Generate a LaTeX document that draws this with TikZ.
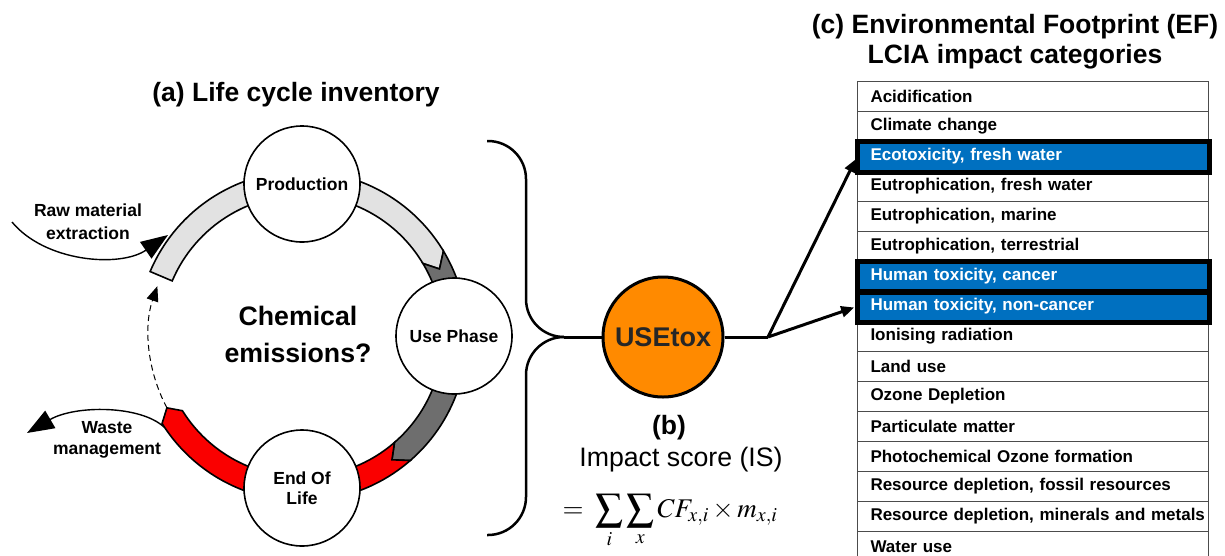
\RequirePackage{fix-cm}
\documentclass[tikz,border=0pt]{standalone}
\usepackage{mathptmx}
\usepackage[no-math]{fontspec}
\setmainfont{Liberation Sans}
\usetikzlibrary{arrows.meta}

\definecolor{bandlight}{RGB}{226,226,226}
\definecolor{banddark}{RGB}{110,110,110}
\definecolor{bandred}{RGB}{250,0,0}
\definecolor{toxorange}{RGB}{255,138,0}
\definecolor{efblue}{RGB}{0,112,192}

\def\ringout{165}
\def\ringin{141}
\def\ringmid{153}
% ring piece: fill, start, end, notch, tip
\newcommand{\lcband}[5]{%
  \filldraw[band, fill=#1] (#2:\ringout) arc[start angle=#2, end angle=#3, radius=\ringout]
    -- (#5:\ringmid) -- (#3:\ringin) arc[start angle=#3, end angle=#2, radius=\ringin]
    -- (#4:\ringmid) -- cycle;}
\newcommand{\bigsum}{\mathop{\vcenter{\hbox{\scalebox{1.45}{$\sum$}}}}\limits}

\begin{document}
\begin{tikzpicture}[x=1pt, y=-1pt,
  stage/.style={circle, draw, line width=1.6pt, fill=white, minimum size=116pt, inner sep=0pt,
    align=center, font=\fontsize{17.5}{20}\selectfont\bfseries},
  band/.style={line width=1.6pt},
  title/.style={align=center, font=\fontsize{26.5}{30}\selectfont\bfseries},
  flowlabel/.style={align=center, font=\fontsize{17.5}{22}\selectfont\bfseries},
  flow/.style={line width=1.4pt, -{Triangle[length=27pt,width=20pt]}},
  brace/.style={line width=2.5pt, rounded corners=38pt},
  link/.style={line width=3pt},
  pick/.style={line width=3pt, shorten >=3pt, -{Triangle[length=13pt,width=11pt]}},
  tox/.style={circle, draw, line width=3pt, fill=toxorange, text=black!85, minimum size=120pt,
    inner sep=0pt, font=\fontsize{27}{30}\selectfont\bfseries},
  catrow/.style={draw=black!70, line width=1pt, anchor=north west, minimum width=351pt,
    minimum height=30pt, text width=325pt, inner xsep=13pt, inner ysep=0pt, align=left,
    font=\fontsize{17}{20}\selectfont\bfseries},
  hlrow/.style={catrow, fill=efblue, text=white},
  hlframe/.style={line width=5pt}]

\useasboundingbox (0,0) rectangle (1225,555);

% (a) the life cycle ring
\node[title] (ttla) at (296,95) {(a) Life cycle inventory};

\begin{scope}[shift={(302,336)}]
  \lcband{bandlight}{-157}{-31}{-157}{-26}
  \lcband{banddark}{-31}{49}{-26}{54}
  \lcband{bandred}{49}{148}{54}{152}
  \draw[line width=1pt, dash pattern=on 6pt off 4pt, -{Triangle[length=15pt,width=12pt]}]
    (152:153) arc[start angle=152, end angle=199, radius=153];
  \node[stage] (prod) at (-90:152) {Production};
  \node[stage] (usep) at (0:152) {Use Phase};
  \node[stage] (eol) at (90:152) {End Of\\Life};
\end{scope}

\node[align=center, font=\fontsize{26.7}{37}\selectfont\bfseries] (chem) at (298,334) {Chemical\\emissions?};

\coordinate (rawin) at (12,222);
\coordinate (rawtip) at (168,235);
\draw[flow] (rawin) .. controls (45,262) and (120,268) .. (rawtip);
\node[flowlabel, font=\fontsize{17.5}{23}\selectfont\bfseries] (rawlbl) at (88,222) {Raw material\\extraction};

\coordinate (wasteout) at (164,427);
\coordinate (wastetip) at (27,433);
\draw[flow] (wasteout) .. controls (140,405) and (75,405) .. (wastetip);
\node[flowlabel, font=\fontsize{17.5}{21}\selectfont\bfseries] (wastelbl) at (107,440) {Waste\\management};

% (b) USEtox
\coordinate (btop) at (487,141);
\coordinate (bbot) at (487,535);
\coordinate (btip) at (564,337);
\coordinate (fork) at (768,337);
\draw[brace] (btop) -- (526,141) -- (526,337) -- (btip);
\draw[brace] (bbot) -- (526,535) -- (526,337) -- (btip);

\node[tox] (use) at (663,337) {USEtox};
\draw[link] (btip) -- (use);
\draw[link] (use) -- (fork);

\node[title] (lblb) at (669,428) {(b)};
\node[inner sep=0pt, font=\fontsize{26.7}{30}\selectfont] (iscore) at (681,460) {Impact score (IS)};
\node[inner sep=0pt, font=\fontsize{27}{30}\selectfont] (formula) at (670,521)
  {$=\;\bigsum_{i}\bigsum_{x} CF_{x,i}\times m_{x,i}$};

% (c) EF impact categories
\node[title] (ttlc) at (1015,42) {(c) Environmental Footprint (EF)\\LCIA impact categories};

\foreach \lbl/\rs [count=\i] in {Acidification/catrow, Climate change/catrow,
    {Ecotoxicity, fresh water}/hlrow, {Eutrophication, fresh water}/catrow,
    {Eutrophication, marine}/catrow, {Eutrophication, terrestrial}/catrow,
    {Human toxicity, cancer}/hlrow, {Human toxicity, non-cancer}/hlrow,
    Ionising radiation/catrow, Land use/catrow, Ozone Depletion/catrow,
    Particulate matter/catrow, Photochemical Ozone formation/catrow,
    {Resource depletion, fossil resources}/catrow,
    {Resource depletion, minerals and metals}/catrow, Water use/catrow}
  \node[\rs] (r\i) at (857,51+30*\i) {\mbox{\lbl}};

\foreach \k in {3,7,8}
  \draw[hlframe] (r\k.north west) rectangle (r\k.south east);

\draw[pick] (fork) -- (r3.west);
\draw[pick] (fork) -- (r8.west);

\end{tikzpicture}
\end{document}
